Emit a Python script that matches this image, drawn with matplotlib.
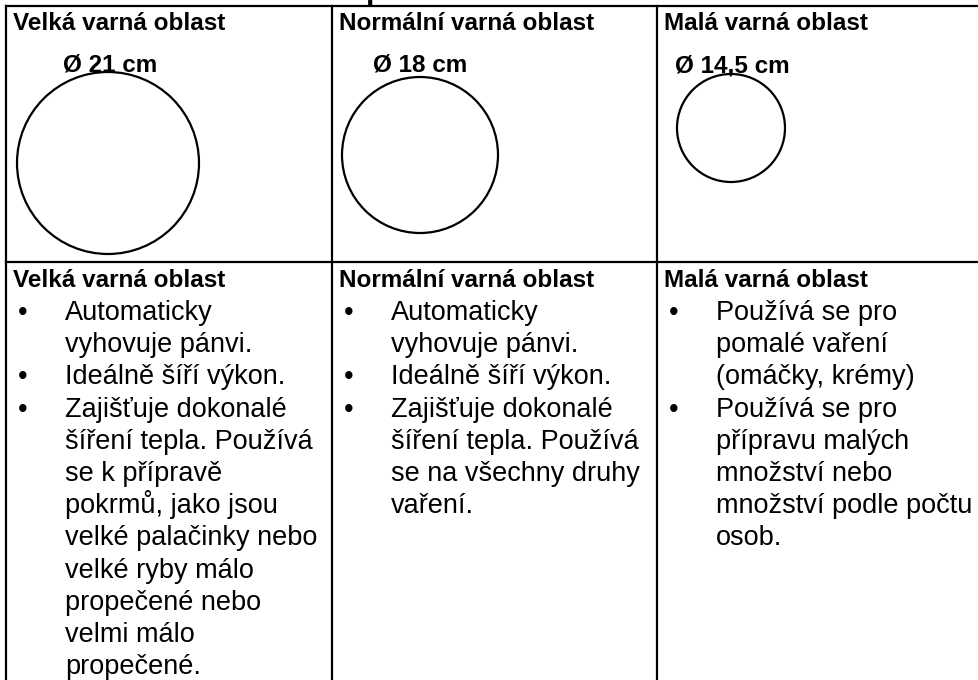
#!/usr/bin/env python3
"""
Varné zóny - tabulka s kruhy a popisy
"""

import matplotlib
matplotlib.use("Agg")
import matplotlib.pyplot as plt
from matplotlib.patches import Circle

# data
zones = ["Velká varná oblast", "Normální varná oblast", "Malá varná oblast"]
diameters = ["21", "18", "14,5"]
bullets_velka = [
    ["Automaticky", "vyhovuje pánvi."],
    ["Ideálně šíří výkon."],
    ["Zajišťuje dokonalé", "šíření tepla. Používá", "se k přípravě",
     "pokrmů, jako jsou", "velké palačinky nebo", "velké ryby málo",
     "propečené nebo", "velmi málo", "propečené."],
]
bullets_normalni = [
    ["Automaticky", "vyhovuje pánvi."],
    ["Ideálně šíří výkon."],
    ["Zajišťuje dokonalé", "šíření tepla. Používá", "se na všechny druhy",
     "vaření."],
]
bullets_mala = [
    ["Používá se pro", "pomalé vaření", "(omáčky, krémy)"],
    ["Používá se pro", "přípravu malých", "množství nebo",
     "množství podle počtu", "osob."],
]
bullets = [bullets_velka, bullets_normalni, bullets_mala]

# rozvržení (pixely)
W, H = 979, 680
col_x = [6, 332, 657]
top_y = 6
mid_y = 262
circle_dx = [102, 88, 74]
circle_cy = [163, 155, 128]
circle_r = [91, 78, 54]
label_dx = [57, 41, 18]
line_h = 32.2

FONT = ["Liberation Sans", "DejaVu Sans"]
plt.rcParams['font.family'] = FONT

fig = plt.figure(figsize=(W / 100, H / 100), dpi=100)
ax = fig.add_axes([0, 0, 1, 1])
ax.set_xlim(0, W)
ax.set_ylim(H, 0)
ax.axis('off')

# mřížka tabulky
lw = 1.6
ax.plot([col_x[0], W], [top_y, top_y], color='black', lw=lw)
ax.plot([col_x[0], W], [mid_y, mid_y], color='black', lw=lw)
for x in col_x:
    ax.plot([x, x], [top_y, H], color='black', lw=lw)

# zbytek nadpisu nad tabulkou (oříznutý horním okrajem)
ax.text(366, -1, "p", fontsize=22, fontweight='bold', va='baseline', ha='left')

for i, zone in enumerate(zones):
    x0 = col_x[i]
    # horní řádek
    ax.text(x0 + 7, 30, zone, fontsize=17.5, fontweight='bold', va='baseline')
    ax.text(x0 + label_dx[i], 72, f"Ø {diameters[i]} cm", fontsize=17.5,
            fontweight='bold', va='baseline')
    ax.add_patch(Circle((x0 + circle_dx[i], circle_cy[i]), circle_r[i],
                        fill=False, edgecolor='black', lw=1.6))

    # dolní řádek
    ax.text(x0 + 7, 287, zone, fontsize=17.5, fontweight='bold', va='baseline')
    y = 320
    for item in bullets[i]:
        ax.text(x0 + 17, y, "•", fontsize=19.5, ha='center', va='baseline')
        for line in item:
            ax.text(x0 + 59, y, line, fontsize=19.5, va='baseline')
            y += line_h

fig.savefig("out.png", dpi=100)
plt.close(fig)
